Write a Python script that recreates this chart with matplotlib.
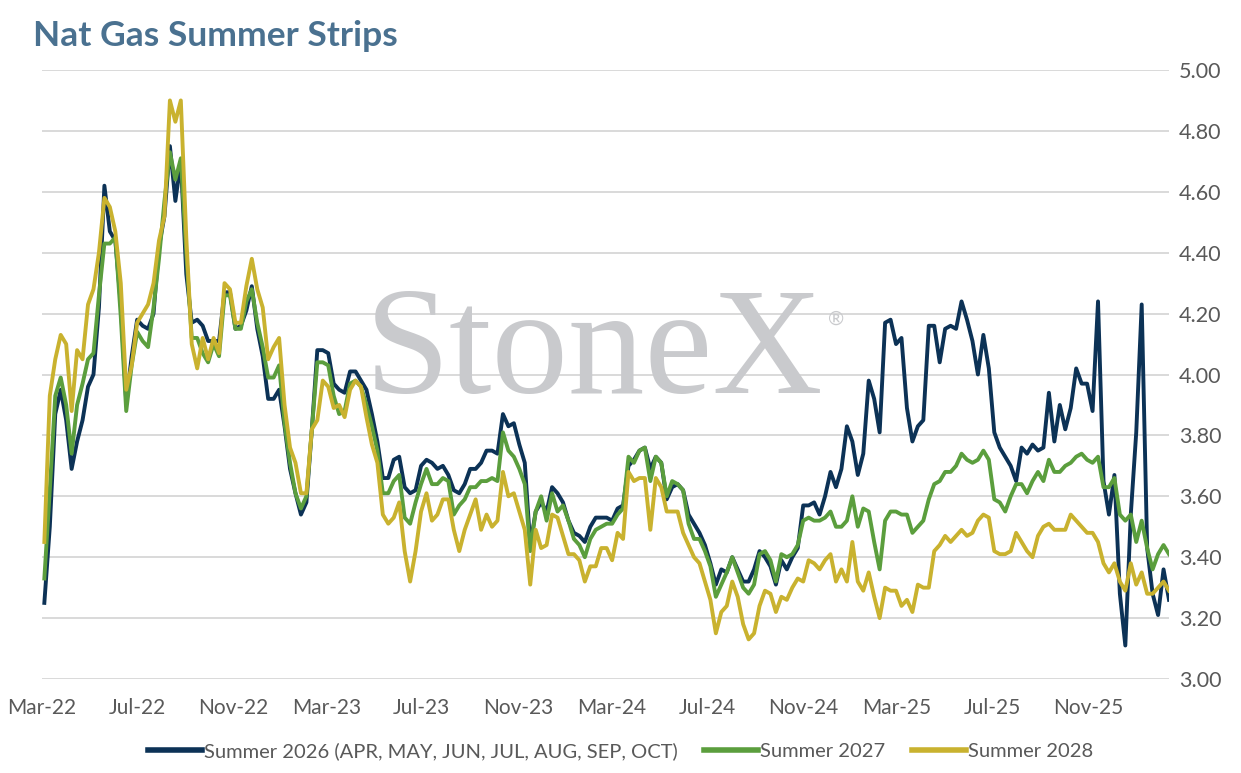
import matplotlib.pyplot as plt
import numpy as np
import pandas as pd
from matplotlib.ticker import FormatStrFormatter

# weekly samples, starting first week of Mar-22
dates = pd.date_range('2022-03-04', periods=207, freq='7D')

summer_2026 = [
    3.25, 3.50, 3.87, 3.95, 3.85, 3.69, 3.78, 3.85, 3.96, 4.00,
    4.22, 4.62, 4.47, 4.44, 4.23, 3.91, 4.06, 4.18, 4.16, 4.15,
    4.20, 4.42, 4.52, 4.75, 4.57, 4.70, 4.33, 4.17, 4.18, 4.16,
    4.11, 4.11, 4.11, 4.27, 4.27, 4.15, 4.16, 4.21, 4.29, 4.15,
    4.06, 3.92, 3.92, 3.95, 3.83, 3.69, 3.61, 3.54, 3.58, 3.82,
    4.08, 4.08, 4.07, 3.97, 3.95, 3.94, 4.01, 4.01, 3.98, 3.95,
    3.87, 3.78, 3.66, 3.66, 3.72, 3.73, 3.63, 3.61, 3.62, 3.70,
    3.72, 3.71, 3.69, 3.70, 3.67, 3.62, 3.61, 3.64, 3.69, 3.69,
    3.71, 3.75, 3.75, 3.74, 3.87, 3.83, 3.84, 3.77, 3.71, 3.44,
    3.55, 3.58, 3.55, 3.63, 3.61, 3.58, 3.52, 3.48, 3.47, 3.45,
    3.50, 3.53, 3.53, 3.53, 3.52, 3.56, 3.57, 3.70, 3.72, 3.75,
    3.76, 3.69, 3.73, 3.71, 3.59, 3.63, 3.64, 3.62, 3.54, 3.51,
    3.48, 3.44, 3.38, 3.31, 3.36, 3.35, 3.40, 3.36, 3.32, 3.32,
    3.36, 3.42, 3.40, 3.37, 3.31, 3.39, 3.36, 3.40, 3.43, 3.57,
    3.57, 3.58, 3.54, 3.60, 3.68, 3.63, 3.69, 3.83, 3.78, 3.67,
    3.74, 3.98, 3.92, 3.81, 4.17, 4.18, 4.10, 4.12, 3.89, 3.78,
    3.83, 3.85, 4.16, 4.16, 4.04, 4.15, 4.16, 4.15, 4.24, 4.18,
    4.11, 4.00, 4.13, 4.02, 3.81, 3.76, 3.73, 3.70, 3.65, 3.76,
    3.74, 3.77, 3.75, 3.76, 3.94, 3.78, 3.90, 3.82, 3.89, 4.02,
    3.97, 3.97, 3.88, 4.24, 3.65, 3.54, 3.67, 3.28, 3.11, 3.54,
    3.81, 4.23, 3.43, 3.28, 3.21, 3.36, 3.26]

summer_2027 = [
    3.33, 3.62, 3.93, 3.99, 3.90, 3.74, 3.90, 3.97, 4.05, 4.07,
    4.26, 4.43, 4.43, 4.45, 4.19, 3.88, 4.03, 4.14, 4.11, 4.09,
    4.22, 4.38, 4.57, 4.73, 4.64, 4.71, 4.40, 4.12, 4.12, 4.07,
    4.04, 4.10, 4.06, 4.26, 4.26, 4.15, 4.15, 4.24, 4.28, 4.17,
    4.09, 3.99, 3.99, 4.03, 3.84, 3.71, 3.61, 3.56, 3.60, 3.82,
    4.04, 4.04, 4.03, 3.93, 3.87, 3.88, 3.97, 3.98, 3.96, 3.90,
    3.83, 3.75, 3.61, 3.61, 3.65, 3.67, 3.53, 3.51, 3.58, 3.64,
    3.69, 3.64, 3.64, 3.66, 3.65, 3.54, 3.57, 3.59, 3.63, 3.63,
    3.65, 3.65, 3.66, 3.65, 3.81, 3.75, 3.73, 3.69, 3.64, 3.42,
    3.55, 3.60, 3.52, 3.61, 3.55, 3.57, 3.52, 3.46, 3.44, 3.40,
    3.46, 3.49, 3.50, 3.51, 3.51, 3.54, 3.56, 3.73, 3.71, 3.75,
    3.76, 3.65, 3.73, 3.71, 3.60, 3.65, 3.64, 3.62, 3.51, 3.46,
    3.46, 3.42, 3.37, 3.27, 3.31, 3.35, 3.40, 3.35, 3.30, 3.28,
    3.31, 3.41, 3.42, 3.39, 3.32, 3.41, 3.40, 3.41, 3.44, 3.52,
    3.53, 3.52, 3.52, 3.53, 3.55, 3.50, 3.50, 3.52, 3.60, 3.50,
    3.56, 3.55, 3.45, 3.36, 3.52, 3.55, 3.55, 3.54, 3.54, 3.48,
    3.50, 3.52, 3.59, 3.64, 3.65, 3.68, 3.68, 3.70, 3.74, 3.72,
    3.71, 3.72, 3.75, 3.72, 3.59, 3.58, 3.55, 3.60, 3.64, 3.64,
    3.61, 3.65, 3.68, 3.65, 3.72, 3.68, 3.68, 3.70, 3.71, 3.73,
    3.74, 3.72, 3.71, 3.73, 3.63, 3.63, 3.66, 3.54, 3.52, 3.54,
    3.45, 3.52, 3.43, 3.36, 3.41, 3.44, 3.41]

summer_2028 = [
    3.45, 3.93, 4.05, 4.13, 4.10, 3.88, 4.08, 4.05, 4.23, 4.28,
    4.40, 4.58, 4.55, 4.47, 4.30, 3.95, 4.03, 4.17, 4.20, 4.23,
    4.30, 4.44, 4.52, 4.90, 4.83, 4.90, 4.45, 4.10, 4.02, 4.12,
    4.05, 4.12, 4.07, 4.30, 4.28, 4.17, 4.17, 4.29, 4.38, 4.28,
    4.22, 4.05, 4.09, 4.12, 3.90, 3.76, 3.71, 3.61, 3.61, 3.82,
    3.85, 3.98, 3.96, 3.89, 3.90, 3.86, 3.95, 3.98, 3.96, 3.86,
    3.77, 3.71, 3.54, 3.51, 3.53, 3.58, 3.42, 3.32, 3.42, 3.55,
    3.61, 3.52, 3.54, 3.59, 3.59, 3.49, 3.42, 3.49, 3.54, 3.59,
    3.49, 3.54, 3.50, 3.52, 3.68, 3.60, 3.61, 3.55, 3.49, 3.31,
    3.49, 3.43, 3.44, 3.54, 3.53, 3.47, 3.41, 3.41, 3.39, 3.32,
    3.37, 3.37, 3.43, 3.43, 3.39, 3.48, 3.46, 3.68, 3.65, 3.66,
    3.66, 3.49, 3.66, 3.63, 3.55, 3.55, 3.55, 3.48, 3.44, 3.40,
    3.38, 3.32, 3.26, 3.15, 3.22, 3.24, 3.32, 3.27, 3.18, 3.13,
    3.15, 3.24, 3.29, 3.28, 3.22, 3.27, 3.26, 3.30, 3.33, 3.32,
    3.39, 3.38, 3.36, 3.39, 3.41, 3.32, 3.36, 3.32, 3.45, 3.32,
    3.29, 3.35, 3.27, 3.20, 3.30, 3.29, 3.29, 3.24, 3.26, 3.22,
    3.31, 3.30, 3.30, 3.42, 3.44, 3.47, 3.45, 3.47, 3.49, 3.47,
    3.48, 3.52, 3.54, 3.53, 3.42, 3.41, 3.41, 3.42, 3.48, 3.45,
    3.42, 3.40, 3.47, 3.50, 3.51, 3.49, 3.49, 3.49, 3.54, 3.52,
    3.50, 3.48, 3.48, 3.45, 3.38, 3.35, 3.38, 3.32, 3.29, 3.38,
    3.31, 3.35, 3.28, 3.28, 3.30, 3.32, 3.29]

labels = ['Summer 2026 (APR, MAY, JUN, JUL, AUG, SEP, OCT)', 'Summer 2027', 'Summer 2028']
colors = ['#0c3256', '#5b9e3d', '#c9b22f']
tick_dates = pd.date_range('2022-03-01', '2025-11-01', freq='4MS')

plt.rcParams['font.family'] = ['Lato', 'DejaVu Sans']

fig = plt.figure(figsize=(12.41, 7.73), dpi=100)
ax = fig.add_axes([42 / 1241, 1 - 679 / 773, 1127 / 1241, 609 / 773])

for i, s in enumerate([summer_2026, summer_2027, summer_2028]):
    ax.plot(dates, s, color=colors[i], lw=2.8, label=labels[i], zorder=3 + i,
            solid_joinstyle='round')

# watermark
ax.text(0.49, 0.47, 'StoneX', transform=ax.transAxes, ha='center', va='baseline',
        fontsize=110, family='Liberation Serif', color='#c9cacd', zorder=2)
ax.text(0.705, 0.59, '\u00ae', transform=ax.transAxes, ha='center', va='center',
        fontsize=14, color='#c9cacd', zorder=2)

ax.set_ylim(3.0, 5.0)
ax.set_yticks(np.arange(3.0, 5.01, 0.2))
ax.yaxis.tick_right()
ax.yaxis.set_major_formatter(FormatStrFormatter('%.2f'))
ax.set_xlim(pd.Timestamp('2022-03-01'), pd.Timestamp('2026-02-13'))
ax.set_xticks(tick_dates)
ax.set_xticklabels([d.strftime('%b-%y') for d in tick_dates])
ax.tick_params(axis='y', length=0, pad=7, labelsize=15.5, labelcolor='#595959')
ax.tick_params(axis='x', length=0, pad=14, labelsize=15, labelcolor='#595959')
ax.grid(axis='y', color='#d9d9d9', lw=1.4, zorder=1)
ax.set_axisbelow(True)
for sp in ax.spines.values():
    sp.set_visible(False)

fig.text(33 / 1241, 1 - 46 / 773, 'Nat Gas Summer Strips', fontsize=25.5,
         fontweight='bold', color='#4a7190', va='baseline')

leg = fig.legend(loc='center', bbox_to_anchor=(0.5, 1 - 751 / 773), ncol=3,
                 frameon=False, fontsize=14.5, handlelength=2.7, handletextpad=0.1,
                 columnspacing=1.3)
for t in leg.get_texts():
    t.set_color('#595959')
for h in leg.get_lines():
    h.set_linewidth(4)

fig.savefig('out.png', dpi=100)
